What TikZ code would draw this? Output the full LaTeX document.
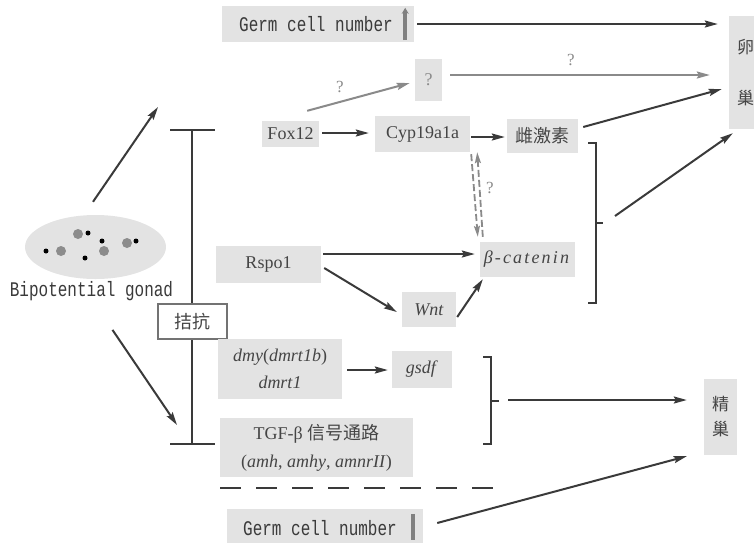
\documentclass[tikz,border=0pt]{standalone}
\usepackage{graphicx}
\usepackage{fontspec}
\setmainfont{Liberation Serif}
\setmonofont{Liberation Mono}
\newfontfamily\cjk{Noto Sans CJK SC}
\usetikzlibrary{arrows.meta,calc,shapes.geometric}
\definecolor{boxgray}{HTML}{E3E3E3}
\definecolor{linedark}{HTML}{3A3A3A}
\definecolor{linegray}{HTML}{8A8A8A}
\definecolor{txtdark}{HTML}{454545}
\definecolor{txtgray}{HTML}{8A8A8A}
\definecolor{dotgray}{HTML}{8C8C8C}
\newcommand{\tallmono}[1]{\scalebox{1}[1.3]{#1}}
\begin{document}
\begin{tikzpicture}[x=1pt,y=-1pt,
  box/.style={fill=boxgray, inner sep=0pt, text=txtdark, font=\fontsize{18}{20}\selectfont},
  cbox/.style={box, font=\fontsize{18}{20}\selectfont\cjk},
  monotxt/.style={inner sep=0pt, text=linedark, font=\fontsize{16}{18}\selectfont\ttfamily},
  qlabel/.style={inner sep=0pt, text=txtgray, font=\fontsize{17}{19}\selectfont},
  darr/.style={draw=linedark, line width=2pt, -{Stealth[length=13pt,width=7pt,inset=2pt]}},
  garr/.style={draw=linegray, line width=2pt, -{Stealth[length=13pt,width=7pt,inset=2pt]}},
  dgarr/.style={draw=linegray, line width=1.8pt, dash pattern=on 7pt off 3pt, -{Stealth[length=11pt,width=6pt,inset=2pt]}},
  brk/.style={draw=linedark, line width=2pt},
  bigdot/.style={circle, fill=dotgray, inner sep=0pt, minimum size=10pt},
  smalldot/.style={circle, fill=black, inner sep=0pt, minimum size=5pt}
]
\useasboundingbox (0,0) rectangle (754,542);

% ---------- nodes ----------
\node[box, minimum width=192pt, minimum height=36pt] (germTop) at (318,24) {};
\node[monotxt] (germTopTxt) at (316,24) {\tallmono{Germ cell number}};
\draw[draw=gray, line width=3.5pt, -{Stealth[length=6pt,width=7pt]}]
  ($(germTop.south east)+(-9,-2)$) -- ($(germTop.north east)+(-9,2)$);

\node[box, minimum width=33pt, minimum height=113pt, align=center,
      font=\fontsize{17}{51}\selectfont\cjk, text=txtdark] (ovary) at (745.5,72.5) {卵\\巢};

\node[box, minimum width=27pt, minimum height=42pt, text=txtgray] (qbox) at (428.5,80) {?};
\node[box, minimum width=57pt, minimum height=26pt] (fox) at (290.5,134) {Fox12};
\node[box, minimum width=95pt, minimum height=36pt] (cyp) at (422.5,134) {Cyp19a1a};
\node[cbox, minimum width=71pt, minimum height=34pt] (estr) at (542.5,136) {雌激素};
\node[box, minimum width=95pt, minimum height=35pt] (beta) at (527.5,259.5) {\addfontfeature{LetterSpace=12}\textit{β-catenin}};
\node[box, minimum width=54pt, minimum height=35pt] (wnt) at (429,309.5) {\textit{Wnt}};
\node[box, minimum width=105pt, minimum height=37pt] (rspo) at (268.5,264.5) {Rspo1};

\node[qlabel] (q1) at (340,87) {?};
\node[qlabel] (q2) at (571,60) {?};
\node[qlabel] (q3) at (490,188) {?};

% gonad
\node[ellipse, fill=boxgray, minimum width=141pt, minimum height=64pt, inner sep=0pt] (gonad) at (95.5,247) {};
\node[bigdot] (g1) at (78,234) {};
\node[bigdot] (g2) at (61,251) {};
\node[bigdot] (g3) at (104,251) {};
\node[bigdot] (g4) at (127,243) {};
\node[smalldot] (s1) at (88,233) {};
\node[smalldot] (s2) at (102,241) {};
\node[smalldot] (s3) at (46,251) {};
\node[smalldot] (s4) at (85,258) {};
\node[smalldot] (s5) at (136,241) {};
\node[monotxt] (gonadTxt) at (91.5,291) {\tallmono{Bipotential gonad}};

\coordinate (upTip) at (158,107);
\coordinate (lowTip) at (177,425);

% antagonism T-bars
\coordinate (tTop) at (192,130);
\coordinate (tBot) at (192,444);
\draw[brk] (tTop) -- (tBot);
\draw[brk] ($(tTop)+(-22,0)$) -- ($(tTop)+(23,0)$);
\draw[brk] ($(tBot)+(-22,0)$) -- ($(tBot)+(23,0)$);
\node[draw=gray!90!black, line width=1.8pt, fill=white, minimum width=69pt, minimum height=35pt,
      inner sep=0pt, text=txtdark, font=\fontsize{18}{20}\selectfont\cjk] (antag) at (192.5,321.5) {拮抗};

% male side
\node[box, minimum width=124pt, minimum height=60pt, align=center,
      font=\fontsize{18}{27}\selectfont] (dmy) at (280,369) {\textit{dmy}(\textit{dmrt1b})\\\textit{dmrt1}};
\node[box, minimum width=60pt, minimum height=37pt] (gsdf) at (422,369.5) {\textit{gsdf}};
\node[box, minimum width=193pt, minimum height=59pt, align=center,
      font=\fontsize{18}{28}\selectfont] (tgf) at (316.5,447.5) {TGF-β {\cjk 信号通路}\\(\textit{amh}, \textit{amhy}, \textit{amnrII})};
\node[box, minimum width=196pt, minimum height=36pt] (germBot) at (325,527) {};
\node[monotxt] (germBotTxt) at (320,528) {\tallmono{Germ cell number}};
\draw[draw=gray, line width=4pt] ($(germBot.north east)+(-10,5)$) -- ($(germBot.north east)+(-10,31)$);
\node[box, minimum width=33pt, minimum height=76pt, align=center,
      font=\fontsize{17}{25}\selectfont\cjk] (testis) at (720.5,417) {精\\巢};

% ---------- connectors ----------
\draw[darr] ($(germTop.east)+(3,0)$) -- ($(germTop.east -| ovary.west)+(-11,0)$);
\draw[garr] ($(fox.north east)+(-12,-10)$) -- ($(qbox.west)+(-5,3)$);
\draw[garr] ($(qbox.east)+(8,-5)$) -- ($(ovary.west)+(-19,2.5)$);
\draw[darr] ($(fox.east)+(3,-1)$) -- ($(cyp.west)+(-6,-1)$);
\draw[darr] ($(cyp.east)+(1,3)$) -- ($(estr.west)+(-2,1)$);
\draw[darr] ($(estr.east)+(5,-9)$) -- ($(ovary.west)+(-7,16.5)$);
\draw[darr] ($(rspo.east)+(2,-10.5)$) -- ($(beta.west)+(-5,-5.5)$);
\draw[darr] ($(rspo.east)+(3,3.5)$) -- ($(wnt.west)+(-5,2.5)$);
\draw[darr] ($(wnt.east)+(1,7.5)$) -- ($(beta.south west)+(3,2)$);
\draw[dgarr] ($(cyp.south east)+(1,2)$) -- ($(beta.north west)+(-2,-5)$);
\draw[dgarr] ($(beta.north west)+(3,-5)$) -- ($(cyp.south east)+(7,0)$);

% female bracket
\coordinate (br1) at (596,223);
\draw[brk] ($(br1)+(-8,-80)$) -- ($(br1)+(0,-80)$) -- ($(br1)+(0,80)$) -- ($(br1)+(-8,80)$);
\draw[brk] (br1) -- ($(br1)+(7,0)$);
\draw[darr] ($(br1)+(19,-7)$) -- ($(ovary.south west)+(4,4)$);

% gonad arrows
\draw[darr] ($(gonad.north)+(-2.5,-13)$) -- (upTip);
\draw[darr] ($(gonadTxt.south)+(21,29)$) -- (lowTip);

% male connectors
\draw[darr] ($(dmy.east)+(5,1)$) -- ($(gsdf.west)+(-4,0.5)$);
\coordinate (br2) at (491,401);
\draw[brk] ($(br2)+(-8,-44)$) -- ($(br2)+(0,-44)$) -- ($(br2)+(0,43)$) -- ($(br2)+(-8,43)$);
\draw[brk] (br2) -- ($(br2)+(8,0)$);
\draw[darr] ($(br2)+(17,-1)$) -- ($(testis.west)+(-17,-17)$);
\draw[darr] ($(germBot.east)+(14,-4)$) -- ($(testis.south west)+(-17,1)$);

% dashed separator
\coordinate (dashL) at (220,488);
\coordinate (dashR) at (497,488);
\draw[draw=linedark, line width=2pt, dash pattern=on 21pt off 15pt] (dashL) -- (dashR);
\end{tikzpicture}
\end{document}
